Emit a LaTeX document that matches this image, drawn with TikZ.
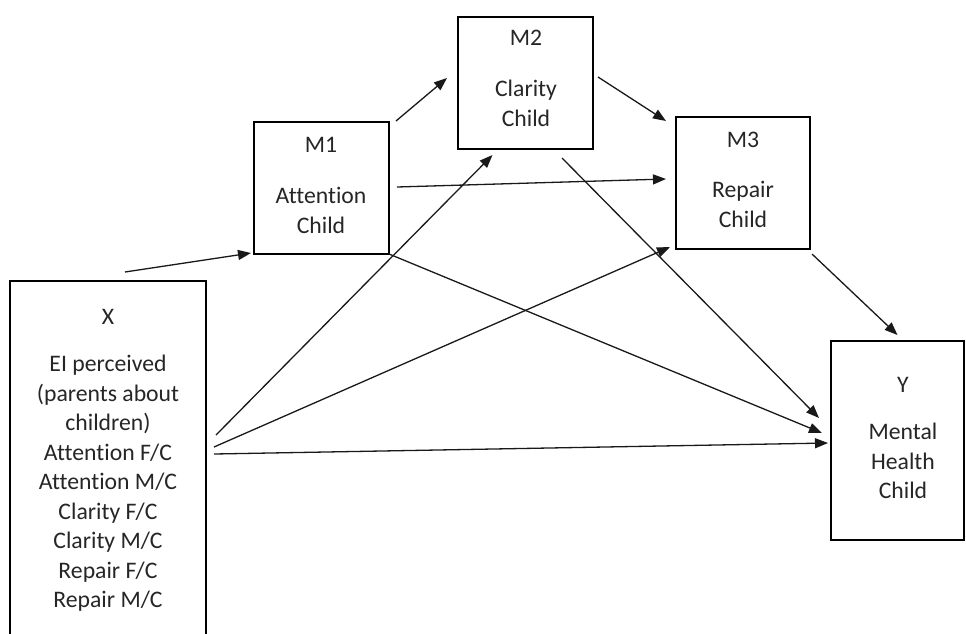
\documentclass[tikz,border=0pt]{standalone}
\usepackage{fontspec}
\setmainfont[Ligatures={NoCommon},RawFeature={-liga;-dlig}]{Carlito}
\usetikzlibrary{arrows.meta,calc}
\newcommand\stk[1]{\vtop{\baselineskip=29.5pt\halign{\hfil##\hfil\cr#1\crcr}}}
\begin{document}
\begin{tikzpicture}[x=1pt,y=-1pt,
  box/.style={draw=black,line width=1.4pt,inner sep=0pt,outer sep=0pt,rectangle},
  lbl/.style={inner sep=0pt,outer sep=0pt,anchor=base,text=black!85,font=\fontsize{23.7}{29.5}\selectfont},
  arr/.style={draw=black!90,line width=1.3pt,-{Triangle[length=13pt,width=10pt]}},
  ln/.style={draw=black!90,line width=1.3pt}]
\useasboundingbox (0,0) rectangle (966,633);
\clip (0,0) rectangle (966,633);
\fill[white] (0,0) rectangle (966,633);
% boxes
\node[box,minimum width=196pt,minimum height=379pt] (x) at (108,470.5) {};
\node[box,minimum width=135pt,minimum height=132pt] (m1) at (321.5,188) {};
\node[box,minimum width=135pt,minimum height=132pt] (m2) at (525.5,83) {};
\node[box,minimum width=134pt,minimum height=132pt] (m3) at (743,183) {};
\node[box,minimum width=133pt,minimum height=199pt] (y) at (897.5,440.5) {};
% texts
\node[lbl] (xt) at (108,324.5) {\stk{X\cr\noalign{\vskip17.5pt}EI perceived\cr(parents about\cr children)\cr Attention F/C\cr Attention M/C\cr Clarity F/C\cr Clarity M/C\cr Repair F/C\cr Repair M/C}};
\node[lbl] (m1t) at (321,152.5) {\stk{M1\cr\noalign{\vskip21.5pt}Attention\cr Child}};
\node[lbl] (m2t) at (526,45.5) {\stk{M2\cr\noalign{\vskip21.5pt}Clarity\cr Child}};
\node[lbl] (m3t) at (743,147.5) {\stk{M3\cr\noalign{\vskip20.5pt}Repair\cr Child}};
\node[lbl] (yt) at (903,392.5) {\stk{Y\cr\noalign{\vskip17.5pt}Mental\cr Health\cr Child}};
% free start of the incoming arrow
\coordinate (xin) at (125,272);
% connectors
\draw[arr] (xin) -- ($(m1.south west)+(-3,-1)$);
\draw[arr] ($(m1.north east)+(7,-1)$) -- ($(m2.west)+(-11,-5)$);
\draw[arr] ($(m2.east)+(5,-6)$) -- ($(m3.north west)+(-10,4)$);
\draw[arr] ($(m1.east)+(8,-1)$) -- ($(m3.west)+(-10,-4)$);
\draw[arr] ($(x.north east)+(10,154)$) -- ($(m2.south)+(-33,6)$);
\draw[arr] ($(x.north east)+(8,166)$) -- ($(m3.south west)+(-6,-2)$);
\draw[arr] ($(x.north east)+(8,173)$) -- ($(y.north west)+(-3,102)$);
\draw[arr] (m1.south east) -- ($(y.north west)+(-9,92)$);
\draw[arr] ($(m2.south)+(36.5,9)$) -- ($(y.north west)+(-12,77)$);
\draw[arr] ($(m3.south east)+(2,5)$) -- ($(y.north)+(0,-6)$);
\end{tikzpicture}
\end{document}
